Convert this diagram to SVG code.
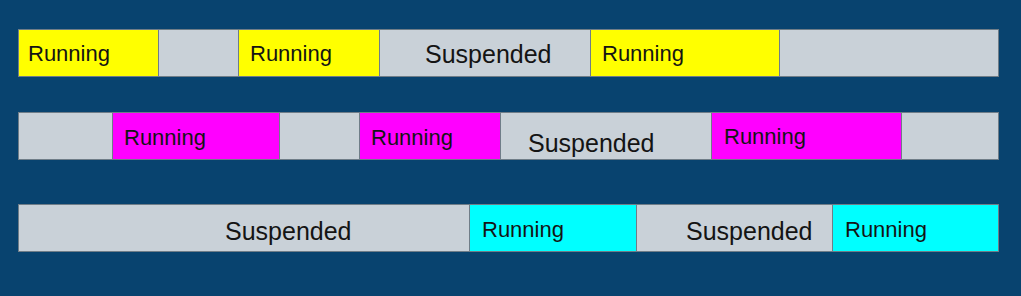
<svg xmlns="http://www.w3.org/2000/svg" width="1021" height="296" viewBox="0 0 1021 296">
<style>
.s{stroke:#6f7d88;stroke-width:1}
.g{fill:#c9d1d8}
.y{fill:#ffff00}
.m{fill:#ff00ff}
.c{fill:#00ffff}
.r{font-family:"Liberation Sans",Arial,sans-serif;font-size:22px;fill:#141414}
.u{font-family:"Liberation Sans",Arial,sans-serif;font-size:25px;fill:#141414}
</style>
<rect width="1021" height="296" fill="#08436f"/>
<g id="row1">
<g id="r1a"><rect class="s y" x="18.5" y="29.5" width="140" height="47"/><text class="r" x="28" y="61">Running</text></g>
<g id="r1b"><rect class="s g" x="158.5" y="29.5" width="80" height="47"/></g>
<g id="r1c"><rect class="s y" x="238.5" y="29.5" width="141" height="47"/><text class="r" x="250" y="61">Running</text></g>
<g id="r1d"><rect class="s g" x="379.5" y="29.5" width="211" height="47"/><text class="u" x="425" y="63">Suspended</text></g>
<g id="r1e"><rect class="s y" x="590.5" y="29.5" width="189" height="47"/><text class="r" x="602" y="61">Running</text></g>
<g id="r1f"><rect class="s g" x="779.5" y="29.5" width="219" height="47"/></g>
</g>
<g id="row2">
<g id="r2a"><rect class="s g" x="18.5" y="112.5" width="94" height="47"/></g>
<g id="r2b"><rect class="s m" x="112.5" y="112.5" width="167" height="47"/><text class="r" x="124" y="145">Running</text></g>
<g id="r2c"><rect class="s g" x="279.5" y="112.5" width="80" height="47"/></g>
<g id="r2d"><rect class="s m" x="359.5" y="112.5" width="141" height="47"/><text class="r" x="371" y="145">Running</text></g>
<g id="r2e"><rect class="s g" x="500.5" y="112.5" width="211" height="47"/><text class="u" x="528" y="152">Suspended</text></g>
<g id="r2f"><rect class="s m" x="711.5" y="112.5" width="190" height="47"/><text class="r" x="724" y="144">Running</text></g>
<g id="r2g"><rect class="s g" x="901.5" y="112.5" width="97" height="47"/></g>
</g>
<g id="row3">
<g id="r3a"><rect class="s g" x="18.5" y="204.5" width="451" height="47"/><text class="u" x="225" y="240">Suspended</text></g>
<g id="r3b"><rect class="s c" x="469.5" y="204.5" width="167" height="47"/><text class="r" x="482" y="237">Running</text></g>
<g id="r3c"><rect class="s g" x="636.5" y="204.5" width="196" height="47"/><text class="u" x="686" y="240">Suspended</text></g>
<g id="r3d"><rect class="s c" x="832.5" y="204.5" width="166" height="47"/><text class="r" x="845" y="237">Running</text></g>
</g>
</svg>
